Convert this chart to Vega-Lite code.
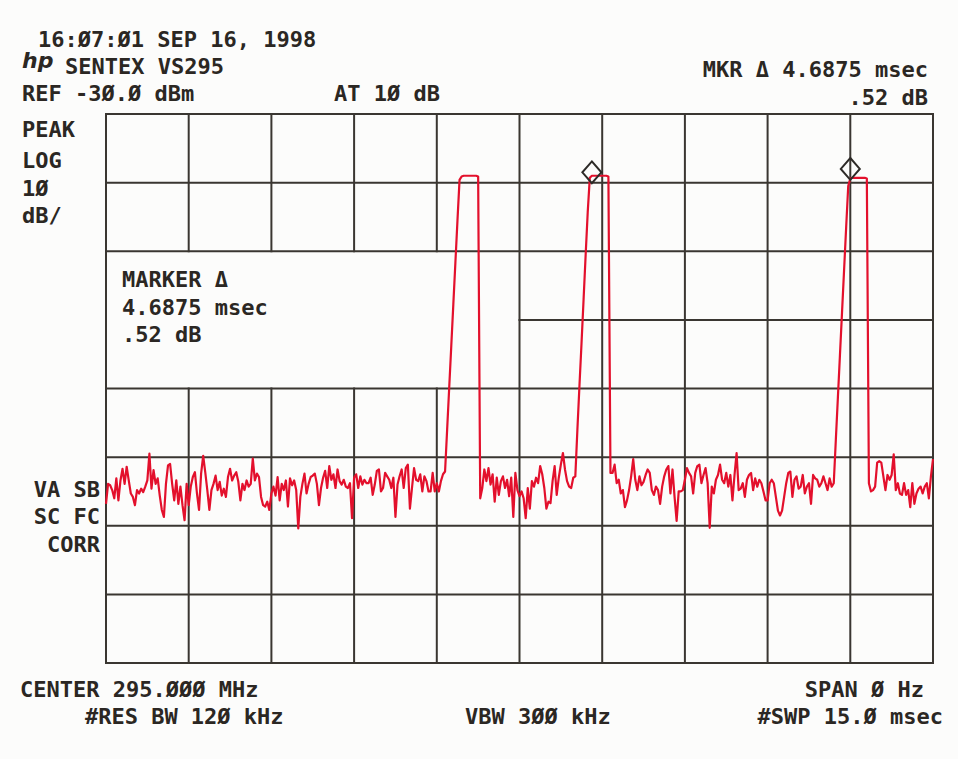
{
"$schema": "https://vega.github.io/schema/vega-lite/v6.json",
"width": 827, "height": 549,
"autosize": {"type": "none"},
"padding": {"left": 106, "top": 114, "right": 25, "bottom": 96},
"background": "#fcfcfb",
"config": {"view": {"stroke": null}},
"datasets": {
"grid": [
{"x0":0,"x1":400,"y0":-30,"y1":-30},{"x0":0,"x1":400,"y0":-40,"y1":-40},{"x0":0,"x1":400,"y0":-50,"y1":-50},{"x0":200,"x1":400,"y0":-60,"y1":-60},{"x0":0,"x1":400,"y0":-70,"y1":-70},{"x0":0,"x1":400,"y0":-80,"y1":-80},{"x0":0,"x1":400,"y0":-90,"y1":-90},{"x0":0,"x1":400,"y0":-100,"y1":-100},{"x0":0,"x1":400,"y0":-110,"y1":-110},
{"x0":0,"x1":0,"y0":-110,"y1":-30},{"x0":200,"x1":200,"y0":-110,"y1":-30},{"x0":240,"x1":240,"y0":-110,"y1":-30},{"x0":280,"x1":280,"y0":-110,"y1":-30},{"x0":320,"x1":320,"y0":-110,"y1":-30},{"x0":360,"x1":360,"y0":-110,"y1":-30},{"x0":400,"x1":400,"y0":-110,"y1":-30},
{"x0":40,"x1":40,"y0":-110,"y1":-70},{"x0":40,"x1":40,"y0":-50,"y1":-30},{"x0":80,"x1":80,"y0":-110,"y1":-70},{"x0":80,"x1":80,"y0":-50,"y1":-30},{"x0":120,"x1":120,"y0":-110,"y1":-70},{"x0":120,"x1":120,"y0":-50,"y1":-30},{"x0":160,"x1":160,"y0":-110,"y1":-70},{"x0":160,"x1":160,"y0":-50,"y1":-30}
],
"trace": [
{"pt":0,"dBm":-86.8},{"pt":1,"dBm":-83.9},{"pt":2,"dBm":-84.1},{"pt":3,"dBm":-84.8},{"pt":4,"dBm":-86.0},{"pt":5,"dBm":-83.1},{"pt":6,"dBm":-86.3},{"pt":7,"dBm":-83.4},{"pt":8,"dBm":-81.7},{"pt":9,"dBm":-83.9},
{"pt":10,"dBm":-81.4},{"pt":11,"dBm":-83.4},{"pt":12,"dBm":-85.3},{"pt":13,"dBm":-85.8},{"pt":14,"dBm":-87.0},{"pt":15,"dBm":-84.8},{"pt":16,"dBm":-85.3},{"pt":17,"dBm":-84.6},{"pt":18,"dBm":-85.1},{"pt":19,"dBm":-84.3},
{"pt":20,"dBm":-83.4},{"pt":21,"dBm":-79.5},{"pt":22,"dBm":-84.6},{"pt":23,"dBm":-81.9},{"pt":24,"dBm":-83.9},{"pt":25,"dBm":-83.1},{"pt":26,"dBm":-85.6},{"pt":27,"dBm":-87.7},{"pt":28,"dBm":-88.7},{"pt":29,"dBm":-83.9},
{"pt":30,"dBm":-81.2},{"pt":31,"dBm":-81.0},{"pt":32,"dBm":-83.9},{"pt":33,"dBm":-86.3},{"pt":34,"dBm":-83.4},{"pt":35,"dBm":-86.8},{"pt":36,"dBm":-84.3},{"pt":37,"dBm":-87.0},{"pt":38,"dBm":-89.2},{"pt":39,"dBm":-83.9},
{"pt":40,"dBm":-87.0},{"pt":41,"dBm":-84.3},{"pt":42,"dBm":-82.9},{"pt":43,"dBm":-82.2},{"pt":44,"dBm":-85.3},{"pt":45,"dBm":-87.7},{"pt":46,"dBm":-82.4},{"pt":47,"dBm":-79.8},{"pt":48,"dBm":-82.2},{"pt":49,"dBm":-84.8},
{"pt":50,"dBm":-87.7},{"pt":51,"dBm":-84.8},{"pt":52,"dBm":-83.9},{"pt":53,"dBm":-82.7},{"pt":54,"dBm":-84.8},{"pt":55,"dBm":-83.6},{"pt":56,"dBm":-85.6},{"pt":57,"dBm":-84.6},{"pt":58,"dBm":-85.8},{"pt":59,"dBm":-82.9},
{"pt":60,"dBm":-81.7},{"pt":61,"dBm":-83.4},{"pt":62,"dBm":-82.7},{"pt":63,"dBm":-82.2},{"pt":64,"dBm":-83.6},{"pt":65,"dBm":-86.3},{"pt":66,"dBm":-83.9},{"pt":67,"dBm":-84.8},{"pt":68,"dBm":-83.4},{"pt":69,"dBm":-84.3},
{"pt":70,"dBm":-83.9},{"pt":71,"dBm":-80.2},{"pt":72,"dBm":-83.4},{"pt":73,"dBm":-82.4},{"pt":74,"dBm":-82.9},{"pt":75,"dBm":-85.8},{"pt":76,"dBm":-87.0},{"pt":77,"dBm":-87.2},{"pt":78,"dBm":-86.5},{"pt":79,"dBm":-87.7},
{"pt":80,"dBm":-85.3},{"pt":81,"dBm":-84.3},{"pt":82,"dBm":-85.6},{"pt":83,"dBm":-82.9},{"pt":84,"dBm":-86.3},{"pt":85,"dBm":-83.9},{"pt":86,"dBm":-84.8},{"pt":87,"dBm":-83.4},{"pt":88,"dBm":-87.2},{"pt":89,"dBm":-83.1},
{"pt":90,"dBm":-84.1},{"pt":91,"dBm":-83.4},{"pt":92,"dBm":-84.8},{"pt":93,"dBm":-90.4},{"pt":94,"dBm":-85.8},{"pt":95,"dBm":-83.9},{"pt":96,"dBm":-82.4},{"pt":97,"dBm":-85.3},{"pt":98,"dBm":-83.9},{"pt":99,"dBm":-82.9},
{"pt":100,"dBm":-82.7},{"pt":101,"dBm":-82.4},{"pt":102,"dBm":-83.9},{"pt":103,"dBm":-87.0},{"pt":104,"dBm":-84.5},{"pt":105,"dBm":-83.0},{"pt":106,"dBm":-82.0},{"pt":107,"dBm":-84.5},{"pt":108,"dBm":-81.3},{"pt":109,"dBm":-83.3},
{"pt":110,"dBm":-82.5},{"pt":111,"dBm":-84.5},{"pt":112,"dBm":-81.8},{"pt":113,"dBm":-83.5},{"pt":114,"dBm":-84.0},{"pt":115,"dBm":-83.3},{"pt":116,"dBm":-84.3},{"pt":117,"dBm":-84.5},{"pt":118,"dBm":-83.8},{"pt":119,"dBm":-88.9},
{"pt":120,"dBm":-83.0},{"pt":121,"dBm":-82.5},{"pt":122,"dBm":-84.5},{"pt":123,"dBm":-82.8},{"pt":124,"dBm":-84.0},{"pt":125,"dBm":-83.3},{"pt":126,"dBm":-83.8},{"pt":127,"dBm":-83.8},{"pt":128,"dBm":-83.0},{"pt":129,"dBm":-85.5},
{"pt":130,"dBm":-84.0},{"pt":131,"dBm":-82.0},{"pt":132,"dBm":-81.8},{"pt":133,"dBm":-85.0},{"pt":134,"dBm":-84.5},{"pt":135,"dBm":-82.3},{"pt":136,"dBm":-82.8},{"pt":137,"dBm":-83.3},{"pt":138,"dBm":-84.5},{"pt":139,"dBm":-83.0},
{"pt":140,"dBm":-88.7},{"pt":141,"dBm":-84.0},{"pt":142,"dBm":-82.8},{"pt":143,"dBm":-81.8},{"pt":144,"dBm":-84.5},{"pt":145,"dBm":-81.6},{"pt":146,"dBm":-81.1},{"pt":147,"dBm":-87.5},{"pt":148,"dBm":-84.5},{"pt":149,"dBm":-81.6},
{"pt":150,"dBm":-83.3},{"pt":151,"dBm":-83.5},{"pt":152,"dBm":-82.5},{"pt":153,"dBm":-85.0},{"pt":154,"dBm":-82.8},{"pt":155,"dBm":-83.5},{"pt":156,"dBm":-85.0},{"pt":157,"dBm":-85.0},{"pt":158,"dBm":-82.3},{"pt":159,"dBm":-85.0},
{"pt":160,"dBm":-83.8},{"pt":161,"dBm":-85.0},{"pt":162,"dBm":-83.5},{"pt":163,"dBm":-82.5},{"pt":164,"dBm":-82.1},{"pt":165,"dBm":-76.0},{"pt":166,"dBm":-69.9},{"pt":167,"dBm":-63.8},{"pt":168,"dBm":-57.7},{"pt":169,"dBm":-51.6},
{"pt":170,"dBm":-45.5},{"pt":171,"dBm":-39.6},{"pt":172,"dBm":-39.1},{"pt":173,"dBm":-39.0},{"pt":174,"dBm":-39.0},{"pt":175,"dBm":-39.0},{"pt":176,"dBm":-39.0},{"pt":177,"dBm":-39.0},{"pt":178,"dBm":-39.0},{"pt":179,"dBm":-39.0},
{"pt":180,"dBm":-39.1},{"pt":181,"dBm":-86.0},{"pt":182,"dBm":-84.5},{"pt":183,"dBm":-81.8},{"pt":184,"dBm":-83.5},{"pt":185,"dBm":-81.6},{"pt":186,"dBm":-84.0},{"pt":187,"dBm":-82.5},{"pt":188,"dBm":-86.5},{"pt":189,"dBm":-83.0},
{"pt":190,"dBm":-85.5},{"pt":191,"dBm":-83.5},{"pt":192,"dBm":-82.8},{"pt":193,"dBm":-84.5},{"pt":194,"dBm":-83.3},{"pt":195,"dBm":-85.7},{"pt":196,"dBm":-83.0},{"pt":197,"dBm":-88.7},{"pt":198,"dBm":-82.3},{"pt":199,"dBm":-84.8},
{"pt":200,"dBm":-85.7},{"pt":201,"dBm":-85.0},{"pt":202,"dBm":-86.0},{"pt":203,"dBm":-88.9},{"pt":204,"dBm":-84.5},{"pt":205,"dBm":-87.5},{"pt":206,"dBm":-83.5},{"pt":207,"dBm":-84.3},{"pt":208,"dBm":-83.0},{"pt":209,"dBm":-83.8},
{"pt":210,"dBm":-81.3},{"pt":211,"dBm":-82.5},{"pt":212,"dBm":-84.5},{"pt":213,"dBm":-87.5},{"pt":214,"dBm":-86.5},{"pt":215,"dBm":-86.7},{"pt":216,"dBm":-83.5},{"pt":217,"dBm":-81.3},{"pt":218,"dBm":-85.5},{"pt":219,"dBm":-83.0},
{"pt":220,"dBm":-81.1},{"pt":221,"dBm":-79.4},{"pt":222,"dBm":-81.8},{"pt":223,"dBm":-83.5},{"pt":224,"dBm":-84.3},{"pt":225,"dBm":-84.5},{"pt":226,"dBm":-83.0},{"pt":227,"dBm":-82.8},{"pt":228,"dBm":-76.0},{"pt":229,"dBm":-69.6},
{"pt":230,"dBm":-63.4},{"pt":231,"dBm":-57.0},{"pt":232,"dBm":-50.5},{"pt":233,"dBm":-44.3},{"pt":234,"dBm":-39.3},{"pt":235,"dBm":-39.0},{"pt":236,"dBm":-39.0},{"pt":237,"dBm":-39.0},{"pt":238,"dBm":-39.0},{"pt":239,"dBm":-39.0},
{"pt":240,"dBm":-39.0},{"pt":241,"dBm":-39.0},{"pt":242,"dBm":-39.0},{"pt":243,"dBm":-39.1},{"pt":244,"dBm":-82.3},{"pt":245,"dBm":-82.3},{"pt":246,"dBm":-81.1},{"pt":247,"dBm":-83.8},{"pt":248,"dBm":-83.3},{"pt":249,"dBm":-85.3},
{"pt":250,"dBm":-84.8},{"pt":251,"dBm":-87.3},{"pt":252,"dBm":-86.3},{"pt":253,"dBm":-84.8},{"pt":254,"dBm":-82.8},{"pt":255,"dBm":-80.3},{"pt":256,"dBm":-83.3},{"pt":257,"dBm":-84.8},{"pt":258,"dBm":-82.8},{"pt":259,"dBm":-84.1},
{"pt":260,"dBm":-83.6},{"pt":261,"dBm":-82.6},{"pt":262,"dBm":-81.8},{"pt":263,"dBm":-82.3},{"pt":264,"dBm":-84.8},{"pt":265,"dBm":-85.5},{"pt":266,"dBm":-84.3},{"pt":267,"dBm":-84.8},{"pt":268,"dBm":-86.8},{"pt":269,"dBm":-84.3},
{"pt":270,"dBm":-82.8},{"pt":271,"dBm":-81.8},{"pt":272,"dBm":-81.3},{"pt":273,"dBm":-85.3},{"pt":274,"dBm":-81.8},{"pt":275,"dBm":-85.8},{"pt":276,"dBm":-89.3},{"pt":277,"dBm":-85.0},{"pt":278,"dBm":-85.0},{"pt":279,"dBm":-84.8},
{"pt":280,"dBm":-83.3},{"pt":281,"dBm":-81.6},{"pt":282,"dBm":-82.3},{"pt":283,"dBm":-82.8},{"pt":284,"dBm":-85.3},{"pt":285,"dBm":-82.3},{"pt":286,"dBm":-81.3},{"pt":287,"dBm":-81.1},{"pt":288,"dBm":-83.8},{"pt":289,"dBm":-82.6},
{"pt":290,"dBm":-81.6},{"pt":291,"dBm":-83.8},{"pt":292,"dBm":-90.3},{"pt":293,"dBm":-84.3},{"pt":294,"dBm":-85.3},{"pt":295,"dBm":-83.3},{"pt":296,"dBm":-82.6},{"pt":297,"dBm":-81.1},{"pt":298,"dBm":-83.3},{"pt":299,"dBm":-83.8},
{"pt":300,"dBm":-82.3},{"pt":301,"dBm":-84.3},{"pt":302,"dBm":-82.6},{"pt":303,"dBm":-86.3},{"pt":304,"dBm":-82.6},{"pt":305,"dBm":-79.4},{"pt":306,"dBm":-84.8},{"pt":307,"dBm":-84.6},{"pt":308,"dBm":-83.8},{"pt":309,"dBm":-85.8},
{"pt":310,"dBm":-83.3},{"pt":311,"dBm":-82.6},{"pt":312,"dBm":-82.3},{"pt":313,"dBm":-84.8},{"pt":314,"dBm":-83.1},{"pt":315,"dBm":-84.3},{"pt":316,"dBm":-83.3},{"pt":317,"dBm":-83.8},{"pt":318,"dBm":-85.0},{"pt":319,"dBm":-86.3},
{"pt":320,"dBm":-86.3},{"pt":321,"dBm":-83.8},{"pt":322,"dBm":-83.3},{"pt":323,"dBm":-83.8},{"pt":324,"dBm":-85.8},{"pt":325,"dBm":-87.8},{"pt":326,"dBm":-88.5},{"pt":327,"dBm":-87.8},{"pt":328,"dBm":-85.8},{"pt":329,"dBm":-83.8},
{"pt":330,"dBm":-82.3},{"pt":331,"dBm":-82.1},{"pt":332,"dBm":-85.8},{"pt":333,"dBm":-83.3},{"pt":334,"dBm":-82.8},{"pt":335,"dBm":-84.6},{"pt":336,"dBm":-84.3},{"pt":337,"dBm":-82.6},{"pt":338,"dBm":-85.3},{"pt":339,"dBm":-84.3},
{"pt":340,"dBm":-83.8},{"pt":341,"dBm":-86.8},{"pt":342,"dBm":-82.6},{"pt":343,"dBm":-83.1},{"pt":344,"dBm":-83.3},{"pt":345,"dBm":-84.3},{"pt":346,"dBm":-83.8},{"pt":347,"dBm":-82.8},{"pt":348,"dBm":-83.8},{"pt":349,"dBm":-84.8},
{"pt":350,"dBm":-83.1},{"pt":351,"dBm":-84.3},{"pt":352,"dBm":-83.8},{"pt":353,"dBm":-77.5},{"pt":354,"dBm":-71.3},{"pt":355,"dBm":-65.1},{"pt":356,"dBm":-58.9},{"pt":357,"dBm":-52.7},{"pt":358,"dBm":-46.5},{"pt":359,"dBm":-40.5},
{"pt":360,"dBm":-39.4},{"pt":361,"dBm":-39.3},{"pt":362,"dBm":-39.3},{"pt":363,"dBm":-39.3},{"pt":364,"dBm":-39.3},{"pt":365,"dBm":-39.3},{"pt":366,"dBm":-39.3},{"pt":367,"dBm":-39.3},{"pt":368,"dBm":-39.4},{"pt":369,"dBm":-83.8},
{"pt":370,"dBm":-85.0},{"pt":371,"dBm":-84.8},{"pt":372,"dBm":-84.3},{"pt":373,"dBm":-80.8},{"pt":374,"dBm":-80.6},{"pt":375,"dBm":-80.8},{"pt":376,"dBm":-82.8},{"pt":377,"dBm":-84.8},{"pt":378,"dBm":-82.6},{"pt":379,"dBm":-83.3},
{"pt":380,"dBm":-82.6},{"pt":381,"dBm":-79.6},{"pt":382,"dBm":-84.8},{"pt":383,"dBm":-83.8},{"pt":384,"dBm":-85.3},{"pt":385,"dBm":-85.5},{"pt":386,"dBm":-83.8},{"pt":387,"dBm":-85.5},{"pt":388,"dBm":-84.8},{"pt":389,"dBm":-87.3},
{"pt":390,"dBm":-83.8},{"pt":391,"dBm":-86.8},{"pt":392,"dBm":-85.3},{"pt":393,"dBm":-84.6},{"pt":394,"dBm":-84.3},{"pt":395,"dBm":-85.3},{"pt":396,"dBm":-84.3},{"pt":397,"dBm":-83.8},{"pt":398,"dBm":-86.0},{"pt":399,"dBm":-82.8},
{"pt":400,"dBm":-80.3}
],
"markers": [{"pt":235,"dBm":-38.5},{"pt":360,"dBm":-38.0}],
"textLeft": [
{"t":"16:Ø7:Ø1 SEP 16, 1998","pt":-32.9,"dBm":-20.24},
{"t":"SENTEX VS295","pt":-19.8,"dBm":-24.17},
{"t":"REF -3Ø.Ø dBm","pt":-40.6,"dBm":-28.11},
{"t":"PEAK","pt":-40.6,"dBm":-33.35},
{"t":"LOG","pt":-40.6,"dBm":-37.87},
{"t":"1Ø","pt":-40.6,"dBm":-41.95},
{"t":"dB/","pt":-40.6,"dBm":-45.88},
{"t":"MARKER Δ","pt":7.74,"dBm":-55.21},
{"t":"4.6875 msec","pt":7.74,"dBm":-59.29},
{"t":".52 dB","pt":7.74,"dBm":-63.22},
{"t":"CENTER 295.ØØØ MHz","pt":-41.6,"dBm":-114.95},
{"t":"#RES BW 12Ø kHz","pt":-10.2,"dBm":-118.89}
],
"textRight": [
{"t":"MKR Δ 4.6875 msec","pt":397.6,"dBm":-24.61},
{"t":".52 dB","pt":397.6,"dBm":-28.69},
{"t":"VA SB","pt":-2.9,"dBm":-85.81},
{"t":"SC FC","pt":-2.9,"dBm":-89.74},
{"t":"CORR","pt":-2.9,"dBm":-93.83},
{"t":"SPAN Ø Hz","pt":395.6,"dBm":-114.95},
{"t":"#SWP 15.Ø msec","pt":404.8,"dBm":-118.89}
],
"textCenter": [
{"t":"AT 1Ø dB","pt":135.9,"dBm":-28.11},
{"t":"VBW 3ØØ kHz","pt":208.9,"dBm":-118.89}
],
"logo": [{"t":"hp","pt":-40.6,"dBm":-23.3}]
},
"layer": [
{
"data": {"name": "grid"},
"mark": {"type": "rule", "color": "#3a3631", "strokeWidth": 2, "strokeCap": "square"},
"encoding": {
"x": {"field": "x0", "type": "quantitative", "scale": {"domain": [0, 400], "nice": false, "zero": false}, "axis": null},
"x2": {"field": "x1"},
"y": {"field": "y0", "type": "quantitative", "scale": {"domain": [-110, -30], "nice": false, "zero": false}, "axis": null},
"y2": {"field": "y1"}
}
},
{
"data": {"name": "trace"},
"mark": {"type": "line", "color": "#e3102c", "strokeWidth": 2.2, "strokeJoin": "round"},
"encoding": {
"x": {"field": "pt", "type": "quantitative", "scale": {"domain": [0, 400], "nice": false, "zero": false}, "axis": null},
"y": {"field": "dBm", "type": "quantitative", "scale": {"domain": [-110, -30], "nice": false, "zero": false}, "axis": null}
}
},
{
"data": {"name": "markers"},
"mark": {"type": "point", "shape": "M0,-1.15L1,0L0,1.15L-1,0Z", "size": 361, "filled": false, "stroke": "#2d2a27", "strokeWidth": 2, "opacity": 1},
"encoding": {
"x": {"field": "pt", "type": "quantitative", "scale": {"domain": [0, 400], "nice": false, "zero": false}, "axis": null},
"y": {"field": "dBm", "type": "quantitative", "scale": {"domain": [-110, -30], "nice": false, "zero": false}, "axis": null}
}
},
{
"data": {"name": "textLeft"},
"mark": {"type": "text", "align": "left", "baseline": "alphabetic", "font": "DejaVu Sans Mono", "fontSize": 22, "fontWeight": "bold", "color": "#2b2723"},
"encoding": {
"x": {"field": "pt", "type": "quantitative", "scale": {"domain": [0, 400], "nice": false, "zero": false}, "axis": null},
"y": {"field": "dBm", "type": "quantitative", "scale": {"domain": [-110, -30], "nice": false, "zero": false}, "axis": null},
"text": {"field": "t"}
}
},
{
"data": {"name": "textRight"},
"mark": {"type": "text", "align": "right", "baseline": "alphabetic", "font": "DejaVu Sans Mono", "fontSize": 22, "fontWeight": "bold", "color": "#2b2723"},
"encoding": {
"x": {"field": "pt", "type": "quantitative", "scale": {"domain": [0, 400], "nice": false, "zero": false}, "axis": null},
"y": {"field": "dBm", "type": "quantitative", "scale": {"domain": [-110, -30], "nice": false, "zero": false}, "axis": null},
"text": {"field": "t"}
}
},
{
"data": {"name": "textCenter"},
"mark": {"type": "text", "align": "center", "baseline": "alphabetic", "font": "DejaVu Sans Mono", "fontSize": 22, "fontWeight": "bold", "color": "#2b2723"},
"encoding": {
"x": {"field": "pt", "type": "quantitative", "scale": {"domain": [0, 400], "nice": false, "zero": false}, "axis": null},
"y": {"field": "dBm", "type": "quantitative", "scale": {"domain": [-110, -30], "nice": false, "zero": false}, "axis": null},
"text": {"field": "t"}
}
},
{
"data": {"name": "logo"},
"mark": {"type": "text", "align": "left", "baseline": "alphabetic", "font": "DejaVu Sans", "fontSize": 22, "fontStyle": "italic", "fontWeight": "bold", "color": "#2b2723"},
"encoding": {
"x": {"field": "pt", "type": "quantitative", "scale": {"domain": [0, 400], "nice": false, "zero": false}, "axis": null},
"y": {"field": "dBm", "type": "quantitative", "scale": {"domain": [-110, -30], "nice": false, "zero": false}, "axis": null},
"text": {"field": "t"}
}
}
]
}
